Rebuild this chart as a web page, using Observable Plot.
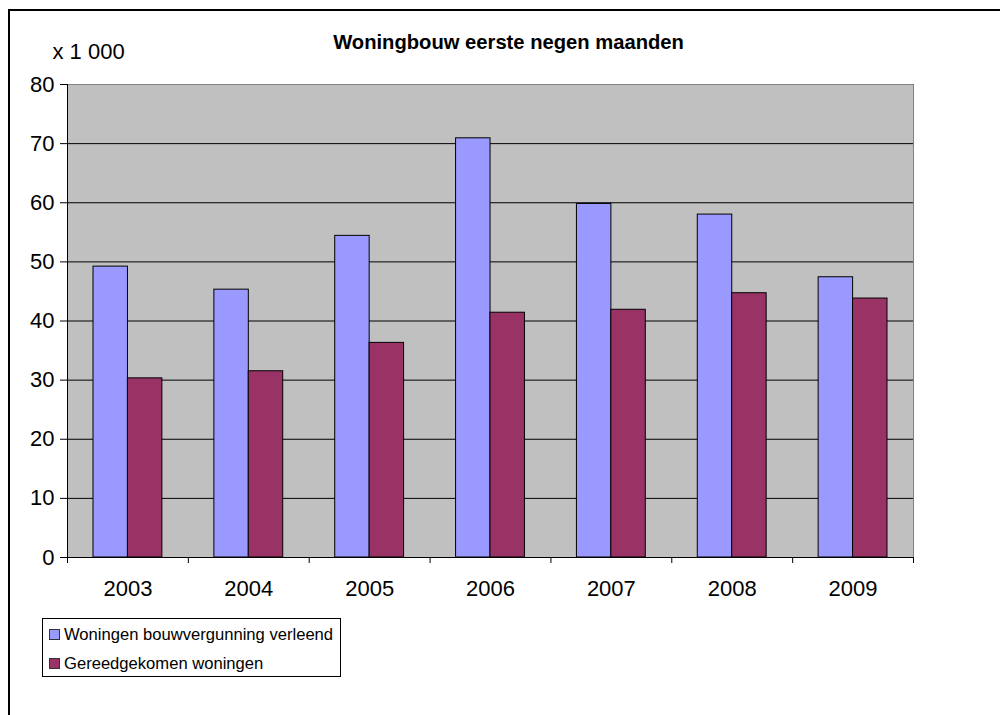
<!DOCTYPE html>
<html>
<head>
<meta charset="utf-8">
<script src="https://cdn.jsdelivr.net/npm/d3@7"></script>
<script src="https://cdn.jsdelivr.net/npm/@observablehq/plot@0.6"></script>
<style>
  html, body { margin: 0; padding: 0; background: #fff; }
  body { width: 1000px; height: 715px; position: relative; overflow: hidden;
         font-family: "Liberation Sans", Arial, sans-serif; color: #000; }
  #border { position: absolute; left: 8px; top: 9px; width: 1100px; height: 800px;
            border-left: 2px solid #000; border-top: 2px solid #000; }
  #chart { position: absolute; left: 0; top: 0; }
  .abs { position: absolute; white-space: nowrap; }
  #title { top: 32.4px; left: 508.5px; transform: translateX(-50%); font-size: 20.2px; line-height: 20px; font-weight: bold; }
  #unit { top: 41.4px; left: 52.5px; font-size: 22px; line-height: 22px; }
  #legend { position: absolute; left: 42px; top: 618px; width: 299px; height: 59px;
            border: 1px solid #000; box-sizing: border-box; background: #fff; }
  .lrow { position: absolute; left: 0; font-size: 16.6px; line-height: 17px; white-space: nowrap; }
  .sw { position: absolute; left: 6px; width: 9px; height: 9px; border: 1px solid #333; }
  .lt { position: absolute; left: 21px; white-space: nowrap; }
</style>
</head>
<body>
<div id="border"></div>
<div id="chart"></div>
<div id="title" class="abs"></div>
<div id="unit" class="abs"></div>
<div id="legend"></div>
<script>
const years = ["2003", "2004", "2005", "2006", "2007", "2008", "2009"];
const permits = [49.2, 45.3, 54.4, 70.9, 59.8, 58.0, 47.4];
const completed = [30.3, 31.5, 36.3, 41.4, 41.9, 44.7, 43.8];
const seriesNames = ["Woningen bouwvergunning verleend", "Gereedgekomen woningen"];
const yTicks = [0, 10, 20, 30, 40, 50, 60, 70, 80];
const titleText = "Woningbouw eerste negen maanden";
const unitText = "x 1 000";
const colors = ["#9999ff", "#993366"];

const permitData = years.map((y, i) => ({year: y, value: permits[i], series: seriesNames[0]}));
const completedData = years.map((y, i) => ({year: y, value: completed[i], series: seriesNames[1]}));

const W = 1000, mL = 67, mR = 87;
const step = (W - mL - mR) / years.length;

const chart = Plot.plot({
  width: W,
  height: 600,
  marginLeft: mL,
  marginRight: mR,
  marginTop: 84,
  marginBottom: 43,
  style: {fontFamily: "'Liberation Sans', Arial, sans-serif", fontSize: "22px", color: "#000", background: "transparent", overflow: "visible"},
  x: {domain: years, padding: 0, round: false, label: null, axis: null},
  y: {domain: [0, 80], label: null, axis: null},
  marks: [
    Plot.frame({fill: "#c0c0c0", stroke: "#808080"}),
    Plot.gridY(yTicks.filter(t => t > 0 && t < 80), {stroke: "#000", strokeOpacity: 1}),
    Plot.barY(permitData, {x: "year", y: "value", fill: colors[0], stroke: "#000", strokeWidth: 1, insetLeft: 26, insetRight: 60.4}),
    Plot.barY(completedData, {x: "year", y: "value", fill: colors[1], stroke: "#000", strokeWidth: 1, insetLeft: 60.4, insetRight: 26}),
    Plot.ruleY([0], {stroke: "#000"}),
    Plot.ruleX([years[0]], {stroke: "#000", dx: -step / 2}),
    Plot.axisY({ticks: yTicks, tickSize: 7, tickPadding: 6, fontSize: 22, stroke: "#000"}),
    Plot.axisX({tickSize: 0, tickPadding: 22.5, fontSize: 22}),
    Plot.axisX({tickSize: 6, tickFormat: () => "", dx: -step / 2, stroke: "#000"}),
    Plot.axisX({ticks: [years[years.length - 1]], tickSize: 6, tickFormat: () => "", dx: step / 2, stroke: "#000"})
  ]
});
document.getElementById("chart").appendChild(chart);

document.getElementById("title").textContent = titleText;
document.getElementById("unit").textContent = unitText;

const legend = document.getElementById("legend");
const rowTops = [7, 36];
seriesNames.forEach((name, i) => {
  const row = document.createElement("div");
  row.className = "lrow";
  row.style.top = rowTops[i] + "px";
  row.style.width = "100%";
  const sw = document.createElement("div");
  sw.className = "sw";
  sw.style.background = colors[i];
  sw.style.top = "3px";
  const t = document.createElement("div");
  t.className = "lt";
  t.textContent = name;
  row.appendChild(sw);
  row.appendChild(t);
  legend.appendChild(row);
});
</script>
</body>
</html>
